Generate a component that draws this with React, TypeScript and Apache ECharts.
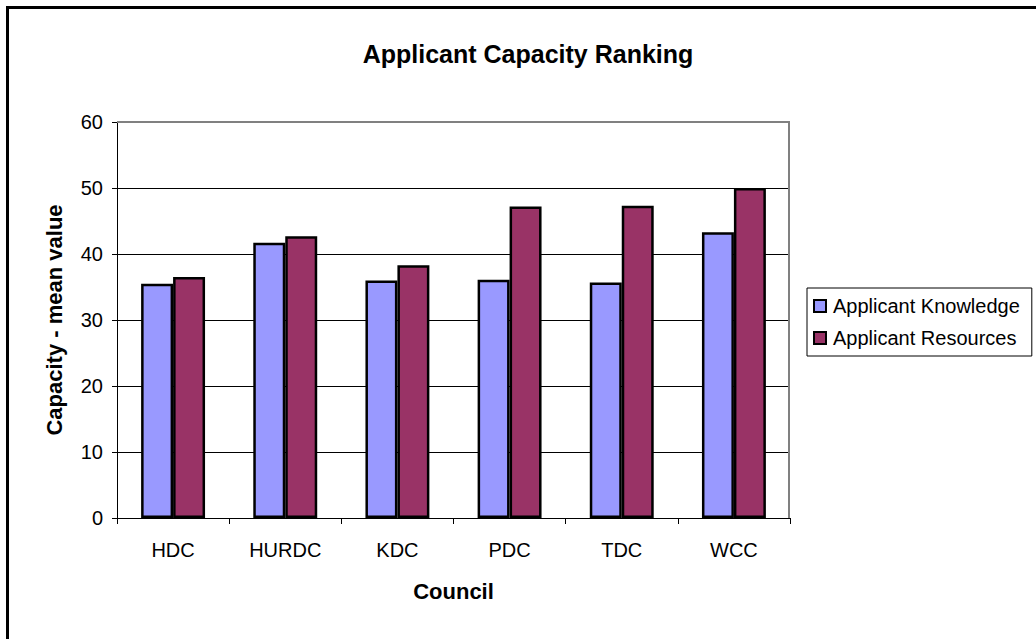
import React, { useEffect, useRef } from "react";
import * as echarts from "echarts";

const categories = ["HDC", "HURDC", "KDC", "PDC", "TDC", "WCC"];
const knowledge = [35.5, 41.7, 36.0, 36.1, 35.7, 43.3];
const resources = [36.5, 42.7, 38.3, 47.2, 47.3, 50.0];
const seriesNames = ["Applicant Knowledge", "Applicant Resources"];

export default function App() {
  const ref = useRef<HTMLDivElement>(null);
  useEffect(() => {
    document.body.style.margin = "0";
    const chart = echarts.init(ref.current!, null, { renderer: "svg" });
    const font = "Arial, 'Liberation Sans', sans-serif";
    chart.setOption({
      animation: false,
      backgroundColor: "#ffffff",
      title: {
        text: "Applicant Capacity Ranking",
        left: 523,
        textAlign: "center",
        top: 36,
        textStyle: { fontFamily: font, fontWeight: "bold", fontSize: 25, color: "#000" },
      },
      graphic: [
        {
          type: "rect",
          shape: { x: 7.5, y: 7.5, width: 1100, height: 700 },
          style: { fill: "none", stroke: "#000", lineWidth: 3 },
          silent: true,
        },
        {
          type: "polyline",
          shape: { points: [[117, 122], [789, 122], [789, 518]] },
          style: { fill: "none", stroke: "#808080", lineWidth: 2 },
          z: 10,
          silent: true,
        },
      ],
      legend: {
        orient: "vertical",
        left: 807,
        top: 288,
        width: 222,
        borderColor: "#000",
        borderWidth: 1,
        padding: [8, 12, 8, 6],
        itemWidth: 12,
        itemHeight: 12,
        itemGap: 12,
        icon: "rect",
        textStyle: { fontFamily: font, fontSize: 20, color: "#000", padding: [0, 0, 0, 2] },
        data: seriesNames,
      },
      grid: {
        left: 117,
        top: 122,
        right: 246,
        bottom: 121,
        show: false,
      },
      xAxis: {
        type: "category",
        data: categories,
        name: "Council",
        nameLocation: "middle",
        nameGap: 62,
        nameTextStyle: { fontFamily: font, fontWeight: "bold", fontSize: 22, color: "#000" },
        axisLine: { lineStyle: { color: "#000", width: 1 } },
        axisTick: { show: true, length: 6, lineStyle: { color: "#000" } },
        axisLabel: { fontFamily: font, fontSize: 20, color: "#000", margin: 22 },
      },
      yAxis: {
        type: "value",
        min: 0,
        max: 60,
        interval: 10,
        name: "Capacity - mean value",
        nameLocation: "middle",
        nameGap: 52,
        nameRotate: 90,
        nameTextStyle: { fontFamily: font, fontWeight: "bold", fontSize: 22, color: "#000" },
        axisLine: { show: true, lineStyle: { color: "#000", width: 1 } },
        axisTick: { show: true, length: 5, lineStyle: { color: "#000" } },
        axisLabel: { fontFamily: font, fontSize: 20, color: "#000", margin: 14 },
        splitLine: { show: true, lineStyle: { color: "#000", width: 1 } },
      },
      series: [
        {
          name: seriesNames[0],
          type: "bar",
          data: knowledge,
          barGap: "0%",
          barCategoryGap: "43%",
          itemStyle: { color: "#9999FF", borderColor: "#000", borderWidth: 2.5 },
        },
        {
          name: seriesNames[1],
          type: "bar",
          data: resources,
          barGap: "0%",
          barCategoryGap: "43%",
          itemStyle: { color: "#993366", borderColor: "#000", borderWidth: 2.5 },
        },
      ],
    });
    return () => chart.dispose();
  }, []);
  return <div ref={ref} style={{ width: 1036, height: 639 }} />;
}
